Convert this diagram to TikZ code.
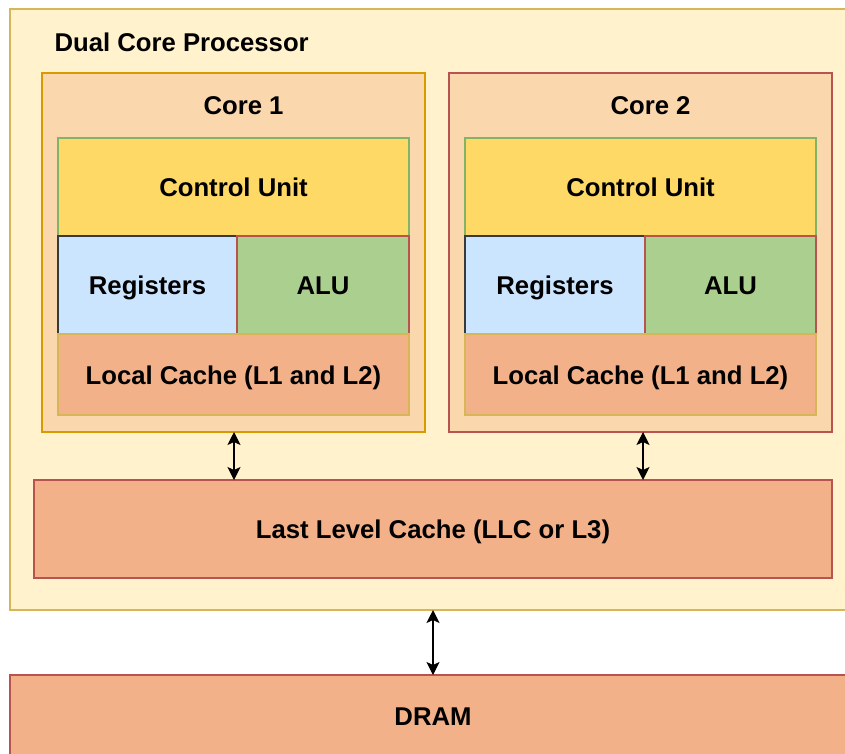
\documentclass[tikz,border=0pt]{standalone}
\usepackage{fontspec}
\setmainfont{Liberation Sans}
\usetikzlibrary{arrows.meta,positioning}

\definecolor{procfill}{HTML}{FFF2CC}
\definecolor{procline}{HTML}{D6B656}
\definecolor{corefill}{HTML}{FAD7AC}
\definecolor{coreoneline}{HTML}{D79B00}
\definecolor{redline}{HTML}{B85450}
\definecolor{cufill}{HTML}{FFD966}
\definecolor{greenline}{HTML}{82B366}
\definecolor{regfill}{HTML}{CCE5FF}
\definecolor{regline}{HTML}{36393D}
\definecolor{alufill}{HTML}{ABCF8E}
\definecolor{cachefill}{HTML}{F2B189}

\tikzset{
  px/.style={x=1pt,y=-1pt},
  lbl/.style={font=\fontsize{25.7}{30}\selectfont\bfseries, text height=22pt, text depth=3pt},
  blk/.style={rectangle, anchor=north west, inner sep=0pt, outer sep=0pt,
    line width=1.2pt, lbl},
  tip/.style={Stealth[length=13pt,width=13pt,inset=3pt]},
  arr/.style={line width=1.3pt, {Stealth[length=13pt,width=13pt,inset=3pt]}-{Stealth[length=13pt,width=13pt,inset=3pt]}},
}

\newcommand{\blkat}[7]{% name, x0, y0, x1, y1, style, text
  \node[blk, #6, minimum width={(#4-#2)*1pt}, minimum height={(#5-#3)*1pt}] (#1) at (#2,#3) {#7};}

\begin{document}
\begin{tikzpicture}[px]
\useasboundingbox (0,0) rectangle (845,753);
\clip (0,0) rectangle (845,753);

% processor package
\blkat{proc}{10}{9}{860}{610}{fill=procfill, draw=procline}{}
\node[lbl, anchor=west] (proclabel) at (51,42) {Dual Core Processor};

% the two cores
\blkat{core1}{42}{73}{425}{432}{fill=corefill, draw=coreoneline}{}
\blkat{core2}{449}{73}{832}{432}{fill=corefill, draw=redline}{}
\node[lbl] (core1label) at (243.5,105) {Core 1};
\node[lbl] (core2label) at (650.5,105) {Core 2};

% core 1 units
\blkat{cu1}{58}{138}{409}{236}{fill=cufill, draw=greenline}{Control Unit}
\blkat{reg1}{58}{236}{237}{334}{fill=regfill, draw=regline}{Registers}
\blkat{alu1}{237}{236}{409}{334}{fill=alufill, draw=redline}{ALU}
\blkat{lc1}{58}{334}{409}{415}{fill=cachefill, draw=procline}{Local Cache (L1 and L2)}

% core 2 units
\blkat{cu2}{465}{138}{816}{236}{fill=cufill, draw=greenline}{Control Unit}
\blkat{reg2}{465}{236}{645}{334}{fill=regfill, draw=regline}{Registers}
\blkat{alu2}{645}{236}{816}{334}{fill=alufill, draw=redline}{ALU}
\blkat{lc2}{465}{334}{816}{415}{fill=cachefill, draw=procline}{Local Cache (L1 and L2)}

% shared last level cache and main memory
\blkat{llc}{34}{480}{832}{578}{fill=cachefill, draw=redline}{Last Level Cache (LLC or L3)}
\blkat{dram}{10}{675}{860}{790}{fill=cachefill, draw=redline}{}
\node[lbl] (dramlabel) at (433,716) {DRAM};

% connections
\coordinate (a1) at (234,432);
\coordinate (a2) at (643,432);
\coordinate (a3) at (433,610);
\draw[arr] (a1) -- (a1 |- llc.north);
\draw[arr] (a2) -- (a2 |- llc.north);
\draw[arr] (a3) -- (a3 |- dram.north);
\end{tikzpicture}
\end{document}
